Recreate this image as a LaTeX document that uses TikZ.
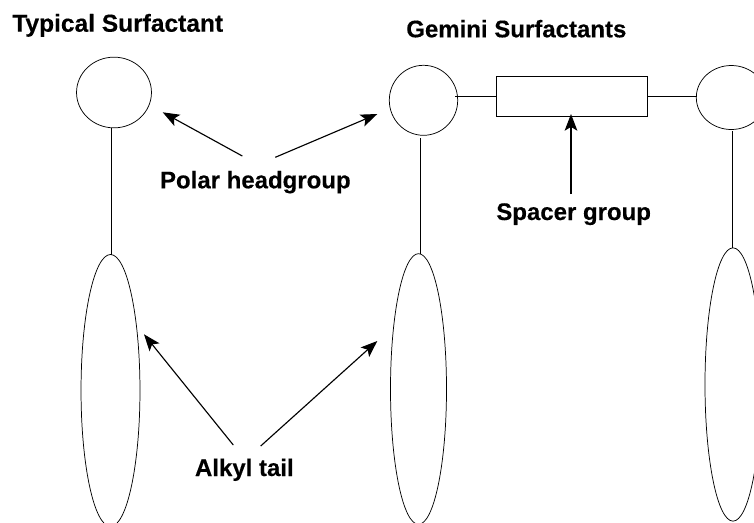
\documentclass[tikz,border=0pt]{standalone}
\usepackage{fontspec}
\setmainfont{Liberation Sans}[BoldFeatures={FakeBold=0.3}]
\usetikzlibrary{arrows.meta,shapes.geometric}
\tikzset{
  x=0.75pt,y=-0.75pt,
  part/.style={draw=black,line width=0.55pt,inner sep=0pt,outer sep=0pt},
  head/.style={part,ellipse},
  tail/.style={part,ellipse},
  spacerbox/.style={part,rectangle},
  link/.style={draw=black,line width=0.6pt},
  pointer/.style={draw=black,line width=0.85pt,-{Stealth[length=12.5pt,width=9.5pt,inset=2.8pt]}},
  lbl/.style={anchor=base west,inner sep=0pt,outer sep=0pt,font=\fontsize{18}{20}\selectfont\bfseries},
}
\begin{document}
\begin{tikzpicture}
\useasboundingbox (0,0) rectangle (754,522);
\clip (0,0) rectangle (754,522);
\fill[white] (0,0) rectangle (754,522);
% heads
\node[head,minimum width=56.2pt,minimum height=53pt] (c1) at (114,92.5) {};
\node[head,minimum width=51.3pt,minimum height=52.5pt] (c2) at (423.5,100.3) {};
\node[head,minimum width=52.5pt,minimum height=48pt] (c3) at (731.3,97.5) {};
% tails
\node[tail,minimum width=44.2pt,minimum height=204pt] (e1) at (110.5,390.5) {};
\node[tail,minimum width=42pt,minimum height=203pt] (e2) at (418.5,389) {};
\node[tail,minimum width=42pt,minimum height=205pt] (e3) at (733,384.5) {};
% spacer
\node[spacerbox,minimum width=113.2pt,minimum height=30pt] (sp) at (571.8,96) {};
% stems
\coordinate (s1) at (111,128);
\coordinate (s2) at (420.3,138);
\coordinate (s3) at (732,131);
\draw[link] (s1) -- (s1 |- e1.north);
\draw[link] (s2) -- (s2 |- e2.north);
\draw[link] (s3) -- (s3 |- e3.north);
% links
\coordinate (l2) at (455,96.5);
\coordinate (l3) at (696.5,96.5);
\draw[link] (l2) -- (l2 -| sp.west);
\draw[link] (l3 -| sp.east) -- (l3);
% labels
\node[lbl,font=\fontsize{18.4}{20}\selectfont\bfseries] (t1) at (12.3,31.7) {Typical Surfactant};
\node[lbl] (t2) at (406.3,37.3) {Gemini Surfactants};
\node[lbl] (t3) at (160,188.3) {Polar headgroup};
\node[lbl] (t4) at (496.3,220) {Spacer group};
\node[lbl] (t5) at (195,476) {Alkyl tail};
% arrows
\coordinate (a1s) at (242.3,156);   \coordinate (a1e) at (162.7,112.3);
\coordinate (a2s) at (275.3,157.3); \coordinate (a2e) at (377.3,114);
\coordinate (a3s) at (571,194);     \coordinate (a3e) at (571,114);
\coordinate (a4s) at (233.3,445);   \coordinate (a4e) at (144,334.3);
\coordinate (a5s) at (260.7,446);   \coordinate (a5e) at (377.3,341);
\draw[pointer] (a1s) -- (a1e);
\draw[pointer] (a2s) -- (a2e);
\draw[pointer] (a3s) -- (a3e);
\draw[pointer] (a4s) -- (a4e);
\draw[pointer] (a5s) -- (a5e);
\end{tikzpicture}
\end{document}
